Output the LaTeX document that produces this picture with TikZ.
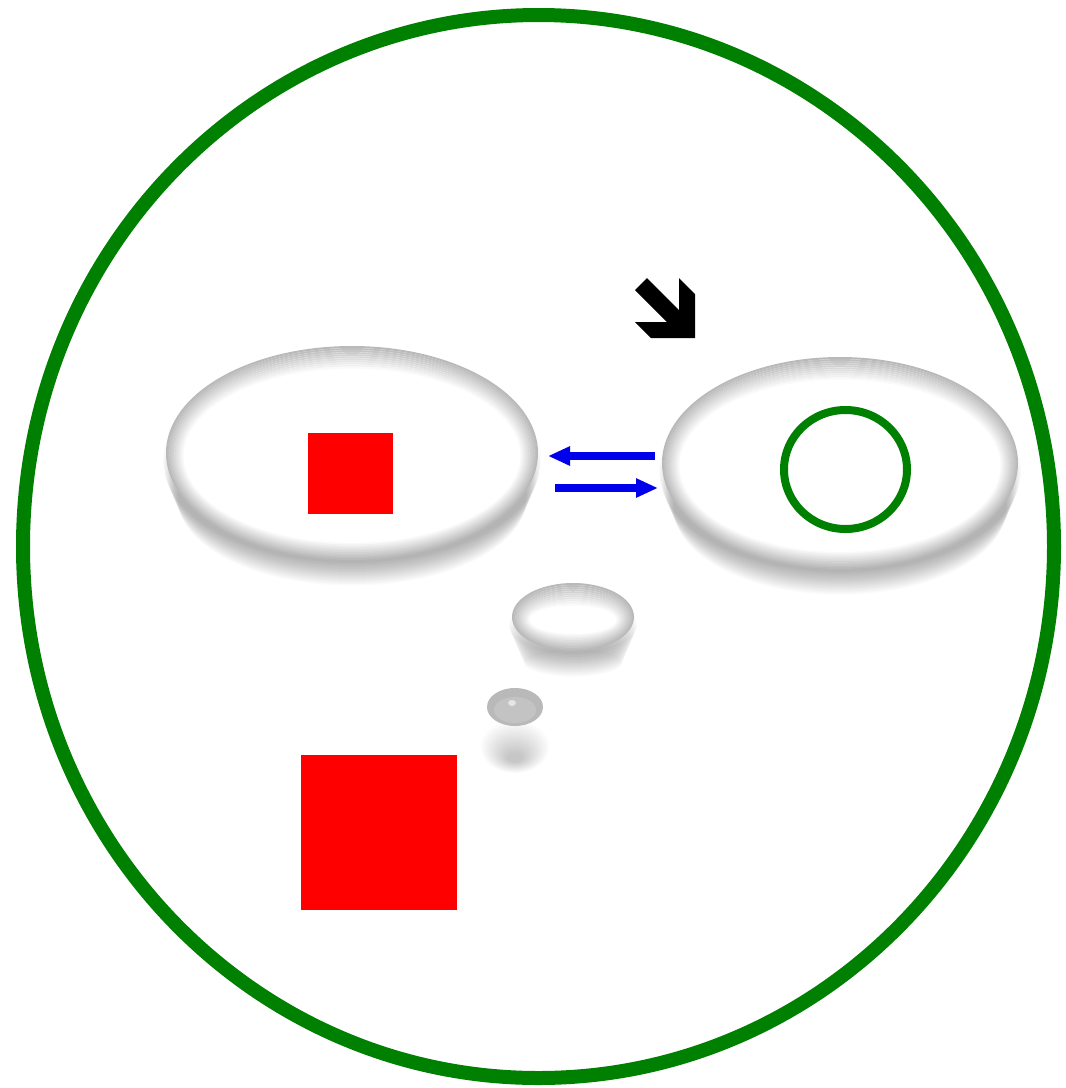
\documentclass[tikz,border=0pt]{standalone}
\usepackage{tikz}
\usetikzlibrary{arrows.meta,positioning,calc}

\definecolor{ringgreen}{RGB}{0,128,0}
\definecolor{boxred}{RGB}{255,0,0}
\definecolor{swapblue}{RGB}{0,0,235}

% glassy drop: centre, x radius, y radius
\newcommand{\glassdrop}[3]{%
    \foreach \s in {0,...,15}
        \fill[black, opacity=0.02] ($(#1)+(0,8+\s*2.5)$) ellipse [x radius=#2pt+4pt-\s*1pt, y radius=#3pt-4pt-\s*1pt];
    \fill[white] (#1) ellipse [x radius=#2pt, y radius=#3pt];
    \foreach \i [evaluate=\i as \g using int(55-\i*5)] in {0,...,11}
        \draw[gray!\g, line width=2pt] ($(#1)+(0,\i*0.25)$) ellipse [x radius=#2pt-\i*1.6pt, y radius=#3pt-\i*1.8pt];
}

\begin{document}
\begin{tikzpicture}[x=1pt, y=-1pt,
    ring/.style={draw=ringgreen, line width=#1},
    swap/.style={swapblue, line width=8pt, -{Triangle[length=22pt, width=18pt]}}]
    \useasboundingbox (0,0) rectangle (1066,1088);
    \fill[white] (0,0) rectangle (1066,1088);

    % outer ring
    \draw[ring=14pt] (538.5,546.5) ellipse [x radius=515.5pt, y radius=531.5pt];

    % the two cups
    \coordinate (lcup) at (352,453);
    \coordinate (rcup) at (840,463);
    \glassdrop{lcup}{185}{106}
    \glassdrop{rcup}{177}{105}

    % contents
    \fill[boxred] (308,433) rectangle (393,514);
    \draw[ring=8pt] (845.5,469.5) ellipse [x radius=61.5pt, y radius=59.5pt];

    % exchange arrows
    \coordinate (backtail) at (655,456);
    \coordinate (backtip) at (548,456);
    \coordinate (fwdtail) at (555,488);
    \coordinate (fwdtip) at (658,488);
    \draw[swap] (backtail) -- (backtip);
    \draw[swap] (fwdtail) -- (fwdtip);

    % pointer
    \fill[black] (647,278) -- (679,310) -- (679,278) -- (695,294) -- (695,338)
        -- (651,338) -- (635,322) -- (667,322) -- (635,290) -- cycle;

    % falling drops
    \coordinate (mdrop) at (573,617);
    \glassdrop{mdrop}{60}{33}
    \coordinate (sdrop) at (515,707);
    \foreach \s in {0,...,13}
        \fill[black, opacity=0.016] ($(sdrop)+(0,40+\s*0.8)$) ellipse [x radius=34pt-\s*2pt, y radius=26pt-\s*1.6pt];
    \fill[gray!55] (sdrop) ellipse [x radius=28pt, y radius=19pt];
    \fill[gray!47] ($(sdrop)+(0,3)$) ellipse [x radius=21pt, y radius=13pt];
    \fill[gray!20] ($(sdrop)+(-3,-4)$) ellipse [x radius=4pt, y radius=3pt];

    % big block
    \fill[boxred] (301,755) rectangle (457,910);
\end{tikzpicture}
\end{document}
